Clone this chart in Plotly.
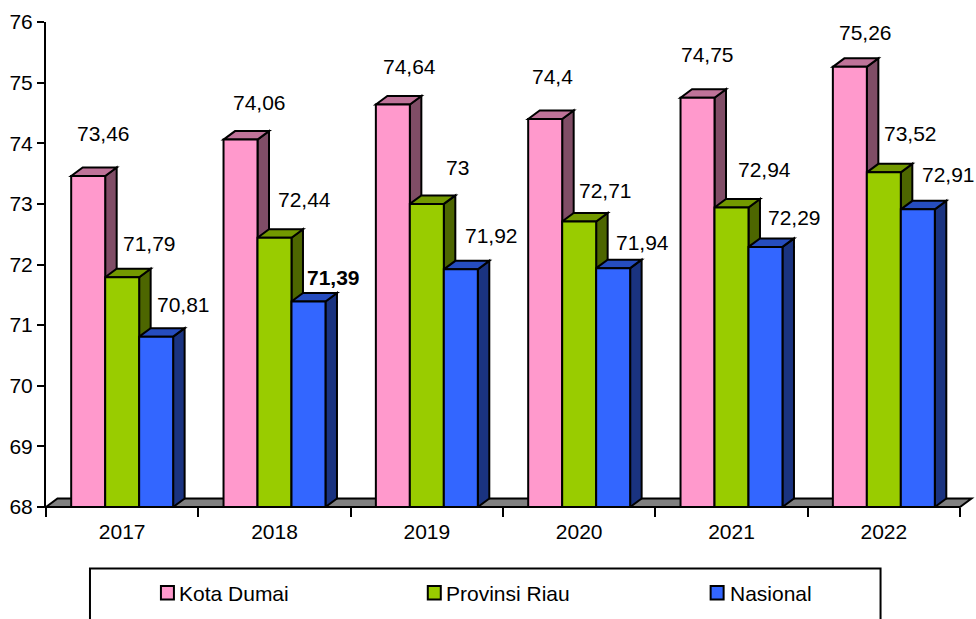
import plotly.graph_objects as go

YEARS = ["2017", "2018", "2019", "2020", "2021", "2022"]
KOTA_DUMAI = [73.46, 74.06, 74.64, 74.4, 74.75, 75.26]
PROVINSI_RIAU = [71.79, 72.44, 73, 72.71, 72.94, 73.52]
NASIONAL = [70.81, 71.39, 71.92, 71.94, 72.29, 72.91]
KOTA_LABELS = ["73,46", "74,06", "74,64", "74,4", "74,75", "75,26"]
RIAU_LABELS = ["71,79", "72,44", "73", "72,71", "72,94", "73,52"]
NAS_LABELS = ["70,81", "71,39", "71,92", "71,94", "72,29", "72,91"]
SERIES_NAMES = ["Kota Dumai", "Provinsi Riau", "Nasional"]
Y_TICKS = [68, 69, 70, 71, 72, 73, 74, 75, 76]

FONT = "Liberation Sans"
FS = 21
W, H = 976, 619
L, R, T, B = 45.5, 16, 22, 112
PW, PH = W - L - R, H - T - B
YMIN, YMAX = 68, 76
DX_PX, DY_PX = 11.5, 8.5
CAT_PX = PW / len(YEARS)
VAL_PX = PH / (YMAX - YMIN)
DX, DY = DX_PX / CAT_PX, DY_PX / VAL_PX
BAR_W = 34 / CAT_PX
OFFSETS = [-1.5 * BAR_W, -0.5 * BAR_W, 0.5 * BAR_W]

FRONT = ["#FF99CC", "#99CC00", "#3366FF"]
SIDE = ["#804D66", "#4D6600", "#1A3380"]
TOP = ["#BF7399", "#739900", "#264DBF"]

series = [KOTA_DUMAI, PROVINSI_RIAU, NASIONAL]
labels = [KOTA_LABELS, RIAU_LABELS, NAS_LABELS]
# label placement relative to the top-centre of each bar, in pixels
LABEL_DX = [[15, 19, 17, 7, 10, 16], [27, 30, 31, 26, 33, 27], [27, 25, 31, 29, 29, 31]]
LABEL_UP = [[42, 37, 38, 43, 43, 34], [34, 38, 36, 31, 38, 39], [32, 24, 34, 26, 29, 35]]
BOLD = {(2, 1)}

fig = go.Figure()
shapes = []
annotations = []


def px(x):
    return (x - L) / PW


def py(y):
    return (H - B - y) / PH


# floor
shapes.append(dict(type="path", xref="paper", yref="paper", layer="below",
                   path=f"M 0 0 L {DX_PX/PW} {DY_PX/PH} L {1+DX_PX/PW} {DY_PX/PH} L 1 0 Z",
                   fillcolor="#808080", line=dict(color="black", width=2)))

for s, vals in enumerate(series):
    fig.add_trace(go.Bar(x=YEARS, y=[v - YMIN for v in vals], base=YMIN, name=SERIES_NAMES[s],
                         width=BAR_W, offset=OFFSETS[s],
                         marker=dict(color=FRONT[s], line=dict(color="black", width=2)),
                         showlegend=False))

for i in range(len(YEARS)):
    for s, vals in enumerate(series):
        v = vals[i]
        x0 = i + OFFSETS[s]
        x1 = x0 + BAR_W
        shapes.append(dict(type="path", layer="below", xref="x", yref="y",
                           path=f"M {x1} {YMIN} L {x1+DX} {YMIN+DY} L {x1+DX} {v+DY} L {x1} {v} Z",
                           fillcolor=SIDE[s], line=dict(color="black", width=2)))
        shapes.append(dict(type="path", layer="below", xref="x", yref="y",
                           path=f"M {x0} {v} L {x0+DX} {v+DY} L {x1+DX} {v+DY} L {x1} {v} Z",
                           fillcolor=TOP[s], line=dict(color="black", width=2)))
        annotations.append(dict(x=i + OFFSETS[s] + BAR_W / 2, y=v, xref="x", yref="y",
                                text=f"<b>{labels[s][i]}</b>" if (s, i) in BOLD else labels[s][i],
                                showarrow=False, xanchor="center", yanchor="middle",
                                xshift=LABEL_DX[s][i], yshift=LABEL_UP[s][i],
                                font=dict(family=FONT, size=FS, color="black")))

# legend box (runs off the bottom of the picture, as in the source)
shapes.append(dict(type="rect", xref="paper", yref="paper", x0=px(89.5), x1=px(880.5),
                   y0=py(640), y1=py(568.5), fillcolor="white", line=dict(color="black", width=2)))
SWATCH_X = [160.5, 427.5, 710.5]
TEXT_X = [177, 444, 728]
for s, name in enumerate(SERIES_NAMES):
    shapes.append(dict(type="rect", xref="paper", yref="paper", x0=px(SWATCH_X[s]), x1=px(SWATCH_X[s] + 13),
                       y0=py(599.5), y1=py(586), fillcolor=FRONT[s], line=dict(color="black", width=2)))
    annotations.append(dict(x=px(TEXT_X[s]), y=py(593), xref="paper", yref="paper", text=name,
                            showarrow=False, xanchor="left", yanchor="middle", xshift=0,
                            font=dict(family=FONT, size=FS, color="black")))

fig.update_layout(
    width=W, height=H, margin=dict(l=L, r=R, t=T, b=B, pad=0, autoexpand=False),
    paper_bgcolor="white", plot_bgcolor="rgba(0,0,0,0)",
    barmode="overlay", showlegend=False, shapes=shapes, annotations=annotations,
    font=dict(family=FONT, size=FS, color="black"),
    xaxis=dict(type="category", categoryorder="array", categoryarray=YEARS, range=[-0.5, 5.5],
               tickson="boundaries", ticks="outside", ticklen=9, tickwidth=2, tickcolor="black",
               ticklabelstandoff=10,
               showline=False, showgrid=False, zeroline=False, tickfont=dict(family=FONT, size=FS)),
    yaxis=dict(range=[YMIN, YMAX], tickvals=Y_TICKS, ticktext=[str(t) for t in Y_TICKS],
               ticks="outside", ticklen=7, tickwidth=2, tickcolor="black",
               showline=True, linewidth=2, linecolor="black", showgrid=False, zeroline=False,
               tickfont=dict(family=FONT, size=FS)),
)
fig.write_html("out.html", config=dict(displayModeBar=False),
               post_script="document.body.style.margin='0';document.documentElement.style.overflow='hidden';")
